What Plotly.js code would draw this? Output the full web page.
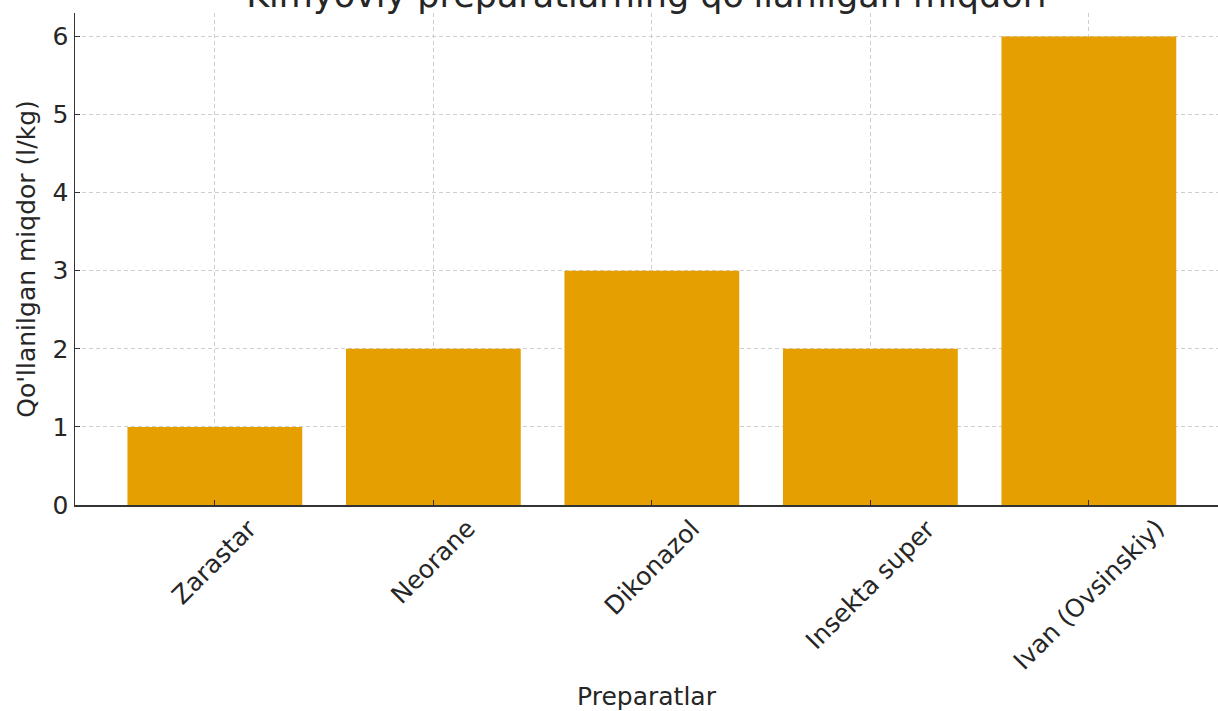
<!DOCTYPE html>
<html>
<head>
<meta charset="utf-8">
<script src="https://cdn.plot.ly/plotly-3.0.1.min.js"></script>
<style>html,body{margin:0;padding:0;background:#fff;}#chart{width:1218px;height:711px;}</style>
</head>
<body>
<div id="chart"></div>
<script>
const categories = ["Zarastar", "Neorane", "Dikonazol", "Insekta super", "Ivan (Ovsinskiy)"];
const amounts = [1, 2, 3, 2, 6];
const yTicks = [0, 1, 2, 3, 4, 5, 6];

const chartTitle = "Kimyoviy preparatlarning qo'llanilgan miqdori";
const xTitle = "Preparatlar";
const yTitle = "Qo'llanilgan miqdor (l/kg)";

const FONT = "DejaVu Sans, sans-serif";
const TXT = "#262626";

const trace = {
  type: "bar",
  x: categories,
  y: amounts,
  marker: {color: "#E69F00", line: {width: 0}},
  hoverinfo: "x+y"
};

const labelAnnotations = categories.map(c => ({
  x: c, xref: "x",
  y: 0, yref: "paper",
  text: c,
  showarrow: false,
  textangle: -45,
  xanchor: "center",
  yanchor: "top",
  yshift: -6,
  font: {family: FONT, size: 25, color: TXT}
}));

const layout = {
  width: 1218,
  height: 711,
  margin: {l: 75, r: 0, t: 13, b: 206, pad: 0},
  paper_bgcolor: "#ffffff",
  plot_bgcolor: "#ffffff",
  showlegend: false,
  bargap: 0.2,
  font: {family: FONT, color: TXT},
  title: {
    text: chartTitle,
    font: {family: FONT, size: 35, color: TXT},
    xref: "paper", x: 0.5, xanchor: "center",
    yref: "container", y: 0.99, yanchor: "bottom",
    pad: {t: 0, b: 0, l: 0, r: 0}
  },
  xaxis: {
    type: "category",
    range: [-0.64, 4.591],
    showticklabels: false,
    ticks: "inside",
    ticklen: 5,
    tickwidth: 1,
    tickcolor: "#333333",
    showline: true,
    linecolor: "#333333",
    linewidth: 1.5,
    mirror: false,
    showgrid: true,
    gridcolor: "#cfcfcf",
    gridwidth: 1,
    griddash: "4px,3px",
    zeroline: false,
    title: {text: xTitle, font: {family: FONT, size: 25, color: TXT}, standoff: 183}
  },
  yaxis: {
    range: [0, 6.3],
    tickvals: yTicks,
    ticktext: yTicks.map(String),
    ticks: "inside",
    ticklen: 5,
    tickwidth: 1,
    tickcolor: "#333333",
    showline: true,
    linecolor: "#333333",
    linewidth: 1.5,
    showgrid: true,
    gridcolor: "#cfcfcf",
    gridwidth: 1,
    griddash: "4px,3px",
    zeroline: false,
    tickfont: {family: FONT, size: 25, color: TXT},
    ticklabelstandoff: 0,
    title: {text: yTitle, font: {family: FONT, size: 25, color: TXT}, standoff: 10}
  },
  annotations: labelAnnotations
};

Plotly.newPlot("chart", [trace], layout, {displayModeBar: false, staticPlot: true});
</script>
</body>
</html>
